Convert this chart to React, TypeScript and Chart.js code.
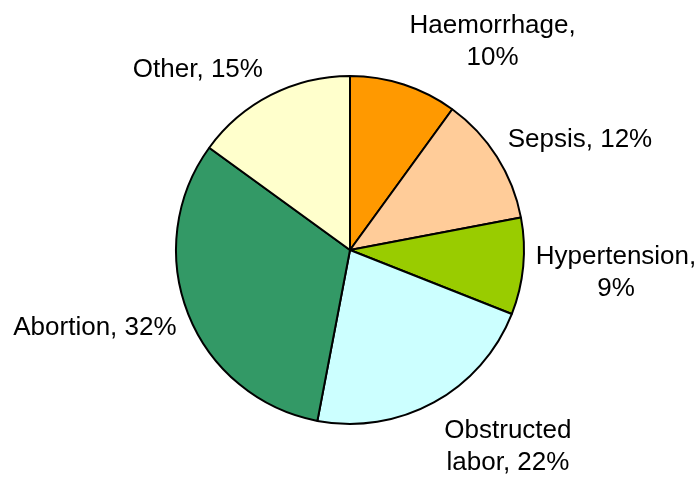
import React, { useEffect, useRef } from "react";
import { Chart, registerables } from "chart.js";

Chart.register(...registerables);

const categories = ["Haemorrhage", "Sepsis", "Hypertension", "Obstructed labor", "Abortion", "Other"];
const values = [10, 12, 9, 22, 32, 15];
const colors = ["#FF9900", "#FFCC99", "#99CC00", "#CCFFFF", "#339966", "#FFFFCC"];
// number of words on the first line of each label (0 = single line)
const labelBreaks = [1, 0, 1, 1, 0, 0];
// label placement: angle (deg clockwise from top) and distance in radius units
const labelAngles = [34.2, 64.0, 94.5, 141.0, 253.4, 320.1];
const labelDists = [1.45, 1.462, 1.525, 1.434, 1.521, 1.355];

const FONT_SIZE = 26;
const LINE_HEIGHT = 32;

const labelPlugin = {
  id: "outerLabels",
  afterDatasetsDraw(chart: any) {
    const ctx = chart.ctx;
    const meta = chart.getDatasetMeta(0);
    ctx.save();
    ctx.fillStyle = "#000";
    ctx.font = `${FONT_SIZE}px "Liberation Sans", Arial, sans-serif`;
    ctx.textAlign = "center";
    ctx.textBaseline = "alphabetic";
    const capHalf = FONT_SIZE * 0.716 / 2;
    meta.data.forEach((arc: any, i: number) => {
      const R = arc.outerRadius + 1;
      const a = (labelAngles[i] * Math.PI) / 180;
      const cx = arc.x + Math.sin(a) * R * labelDists[i];
      const cy = arc.y - Math.cos(a) * R * labelDists[i];
      const text = `${categories[i]}, ${values[i]}%`;
      const words = text.split(" ");
      const lines = labelBreaks[i] > 0
        ? [words.slice(0, labelBreaks[i]).join(" "), words.slice(labelBreaks[i]).join(" ")]
        : [text];
      const startMid = cy - ((lines.length - 1) * LINE_HEIGHT) / 2;
      lines.forEach((line, k) => {
        ctx.fillText(line, cx, startMid + k * LINE_HEIGHT + capHalf);
      });
    });
    ctx.restore();
  },
};

export default function App() {
  const ref = useRef<HTMLCanvasElement>(null);
  useEffect(() => {
    if (!ref.current) return;
    const chart = new Chart(ref.current, {
      type: "pie",
      data: {
        labels: categories,
        datasets: [
          {
            data: values,
            backgroundColor: colors,
            borderColor: "#000000",
            borderWidth: 2,
            hoverOffset: 0,
          },
        ],
      },
      options: {
        responsive: false,
        animation: false,
        events: [],
        layout: { padding: { left: 175, right: 174, top: 75, bottom: 52 } },
        plugins: {
          legend: { display: false },
          tooltip: { enabled: false },
        },
      },
      plugins: [labelPlugin],
    });
    return () => chart.destroy();
  }, []);
  return (
    <div style={{ position: "fixed", left: 0, top: 0, width: 699, height: 477, background: "#fff" }}>
      <canvas ref={ref} width={699} height={477} style={{ width: 699, height: 477 }} />
    </div>
  );
}
